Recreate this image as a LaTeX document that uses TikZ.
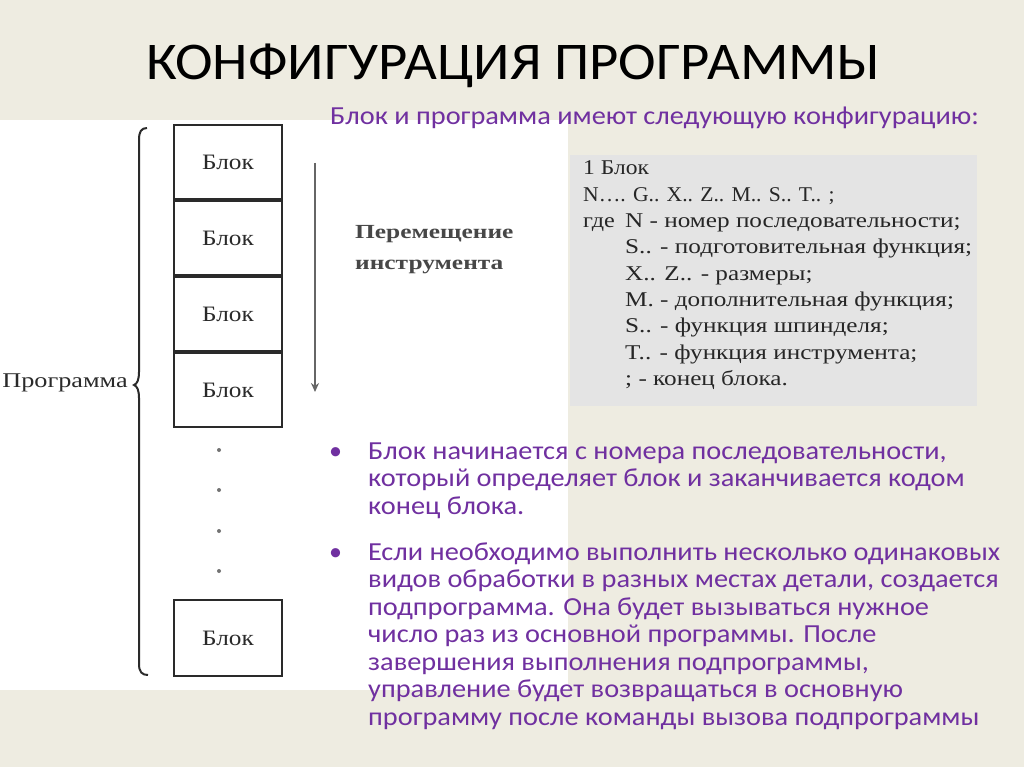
\documentclass[tikz,border=0pt]{standalone}
\usepackage{fontspec}
\setmainfont{Liberation Serif}
\newfontfamily\calib{Carlito}
\usetikzlibrary{positioning,arrows.meta}
\definecolor{slidebg}{HTML}{EEECE1}
\definecolor{codebg}{HTML}{E4E4E4}
\definecolor{slidepurple}{RGB}{112,48,160}
\definecolor{scanink}{HTML}{2A2A2A}

\begin{document}
\begin{tikzpicture}[x=1pt,y=-1pt]
  \tikzstyle{blok}=[rectangle, draw=scanink, line width=2pt, fill=white, minimum width=108pt, minimum height=74pt, inner sep=0pt, font=\fontsize{22}{24}\selectfont, text=scanink]
  \tikzstyle{bline}=[anchor=base west, inner sep=0pt, text=slidepurple, font=\calib\fontsize{26}{28}\selectfont]
  \tikzstyle{codeline}=[anchor=base west, inner sep=0pt, font=\fontsize{21}{24}\selectfont, text=black!85]
  \useasboundingbox (0,0) rectangle (1024,767);
  \fill[slidebg] (0,0) rectangle (1024,767);
  \fill[white] (0,120) rectangle (568,690);
  \fill[codebg] (570,155) rectangle (977,406);
  % title
  \node[inner sep=0pt, anchor=base, font=\calib\fontsize{53}{60}\selectfont] (title) at (513,80) {\scalebox{1.07}[1]{КОНФИГУРАЦИЯ ПРОГРАММЫ}};
  \node[bline] (sub) at (330,125) {\scalebox{1.09}[1]{Блок и программа имеют следующую конфигурацию:}};
  % blocks
  \node[blok] (b1) at (228,162) {\scalebox{1.15}[1]{Блок}};
  \node[blok] (b2) [below=0pt of b1] {\scalebox{1.15}[1]{Блок}};
  \node[blok] (b3) [below=0pt of b2] {\scalebox{1.15}[1]{Блок}};
  \node[blok] (b4) [below=0pt of b3] {\scalebox{1.15}[1]{Блок}};
  \node[blok, minimum height=76pt] (bn) at (228,638) {\scalebox{1.15}[1]{Блок}};
  \foreach \y in {450,490,531,571}
    \fill[black!55] (219,\y) circle (2pt);
  % brace
  \draw[scanink, line width=2pt] (147,128) .. controls (141,128) and (139,132) .. (139,140) -- (139,372) .. controls (139,380) and (137,384) .. (134,385) .. controls (137,386) and (139,390) .. (139,398) -- (139,664) .. controls (139,672) and (142,675) .. (148,675);
  \node[anchor=east, inner sep=0pt, text=scanink, font=\fontsize{21}{24}\selectfont] (prog) at (128,383) {\scalebox{1.25}[1]{Программа}};
  % tool movement
  \coordinate (arrtop) at (315,163);
  \coordinate (arrbot) at (315,392);
  \draw[black!60, line width=2.5pt, -{Stealth[length=9pt,width=8pt]}] (arrtop) -- (arrbot);
  \node[anchor=base west, inner sep=0pt, text=black!72, font=\bfseries\fontsize{20}{24}\selectfont] (move1) at (355,239) {\scalebox{1.27}[1]{Перемещение}};
  \node[anchor=base west, inner sep=0pt, text=black!72, font=\bfseries\fontsize{20}{24}\selectfont] (move2) at (355,269) {\scalebox{1.27}[1]{инструмента}};
  % code box
  \node[codeline] (c1) at (583,175) {\scalebox{1.12}[1]{1 Блок}};
  \node[codeline] (c2) at (583,201.3) {\scalebox{1.03}[1]{N…. G.. X.. Z.. M.. S.. T.. ;}};
  \node[codeline] (c3) at (583,227.6) {\scalebox{1.15}[1]{где}};
  \foreach \txt [count=\i] in {{N - номер последовательности;}, {S.. - подготовительная функция;}, {X.. Z.. - размеры;}, {M. - дополнительная функция;}, {S.. - функция шпинделя;}, {T.. - функция инструмента;}, {; - конец блока.}}
    \node[codeline] (d\i) at (625,{227.6+26.3*(\i-1)}) {\scalebox{1.2}[1]{\txt}};
  % bullets
  \foreach \txt [count=\i] in {{Блок начинается с номера последовательности,}, {который определяет блок и заканчивается кодом}, {конец блока.}}
    \node[bline] (pa\i) at (368,{459+27.5*(\i-1)}) {\scalebox{1.09}[1]{\txt}};
  \foreach \txt [count=\i] in {{Если необходимо выполнить несколько одинаковых}, {видов обработки в разных местах детали, создается}, {подпрограмма. Она будет вызываться нужное}, {число раз из основной программы. После}, {завершения выполнения подпрограммы,}, {управление будет возвращаться в основную}, {программу после команды вызова подпрограммы}}
    \node[bline] (pb\i) at (368,{560+27.5*(\i-1)}) {\scalebox{1.09}[1]{\txt}};
  \node[bline] (dot1) at (329,459) {•};
  \node[bline] (dot2) at (329,560) {•};
\end{tikzpicture}
\end{document}
